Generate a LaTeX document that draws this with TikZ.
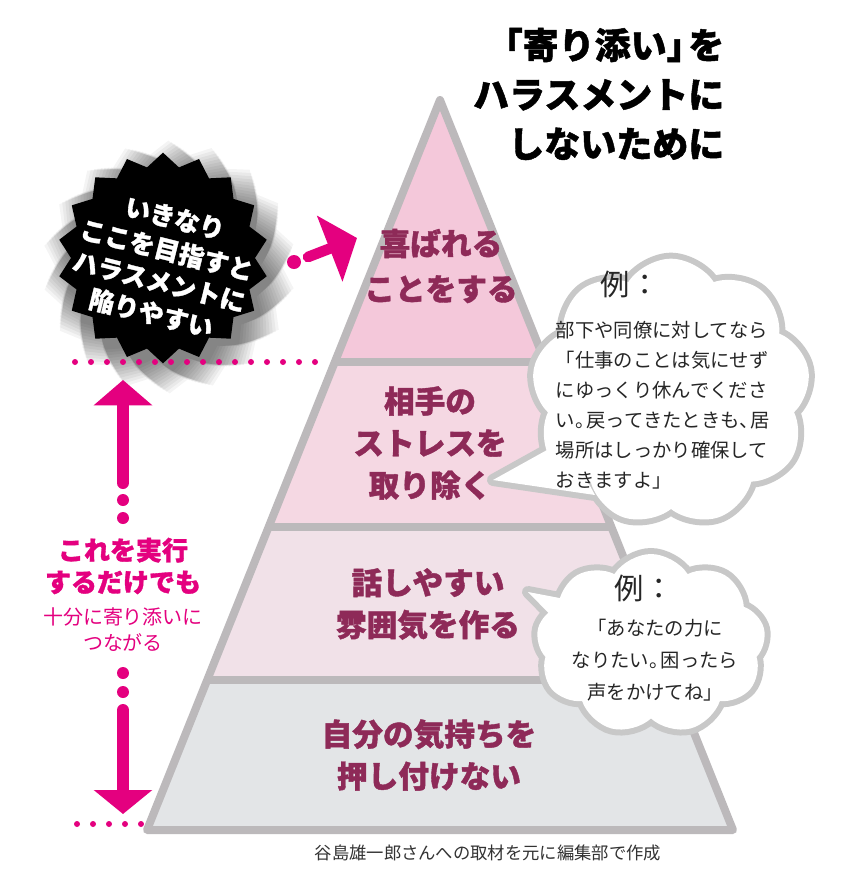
\documentclass[tikz,border=0pt]{standalone}
\usepackage{fontspec}
\newfontfamily\jp{Noto Sans CJK JP}
\newfontfamily\jpx{Noto Sans CJK JP}[BoldFeatures={FakeBold=1.3}]
\usetikzlibrary{shapes.geometric,shapes.symbols,arrows.meta}
\definecolor{mag}{HTML}{E4007F}
\definecolor{tiertext}{HTML}{8E2A58}
\definecolor{pyrline}{HTML}{BCB9BB}
\definecolor{tierA}{HTML}{F4C8DA}
\definecolor{tierB}{HTML}{F5D8E3}
\definecolor{tierC}{HTML}{F1E1E8}
\definecolor{tierD}{HTML}{E3E5E7}
\definecolor{bubgray}{HTML}{C8C8C8}
\newcommand{\pk}{\hspace{-0.4em}}
\tikzset{
  tiertxt/.style={text=tiertext, align=center, font=\jpx\bfseries\fontsize{23}{31.5}\selectfont},
  bubble/.style={cloud, cloud puffs=9, cloud puff arc=115, cloud ignores aspect, inner sep=0pt},
  bubtxt/.style={text=black!85, font=\jp\fontsize{14.5}{22.5}\selectfont},
  reitxt/.style={text=black!85, font=\jp\fontsize{22}{26}\selectfont},
  magdot/.style={circle, fill=mag, inner sep=0pt, minimum size=9pt},
  dotline/.style={mag, line width=4.5pt, line cap=round, dash pattern=on 0pt off 12pt},
  burst/.style={star, star points=18, star point height=10pt, inner sep=0pt}
}
\begin{document}
\begin{tikzpicture}[x=0.75pt,y=-0.75pt]
\useasboundingbox (0,0) rectangle (846,869);
\fill[white] (0,0) rectangle (846,869);

% ---------- pyramid ----------
\coordinate (apex) at (440,100);
\coordinate (bl) at (147,830);
\coordinate (br) at (733,830);
\coordinate (l1) at (334.8,362); \coordinate (r1) at (545.2,362);
\coordinate (l2) at (268.6,527); \coordinate (r2) at (611.4,527);
\coordinate (l3) at (207.2,680); \coordinate (r3) at (672.8,680);
\fill[tierA] (apex)--(r1)--(l1)--cycle;
\fill[tierB] (l1)--(r1)--(r2)--(l2)--cycle;
\fill[tierC] (l2)--(r2)--(r3)--(l3)--cycle;
\fill[tierD] (l3)--(r3)--(br)--(bl)--cycle;
\draw[pyrline, line width=6pt] (l1)--(r1) (l2)--(r2) (l3)--(r3);
\draw[pyrline, line width=6pt, line join=round] (apex)--(br)--(bl)--cycle;

\node[tiertxt, font=\jpx\bfseries\fontsize{23}{34}\selectfont] (t1) at (441,266) {喜ばれる\\ことをする};
\node[tiertxt] (t2) at (430,443) {相手の\\ストレスを\\取り除く};
\node[tiertxt] (t3) at (428,604) {話しやすい\\雰囲気を作る};
\node[tiertxt] (t4) at (429,755) {自分の気持ちを\\押し付けない};

% ---------- title ----------
\node[anchor=east, align=right, font=\jpx\bfseries\fontsize{27}{37}\selectfont] (title) at (729,94)
  {「寄り添い」\pk を\\ハラスメントに\\しないために};

% ---------- starburst ----------
\foreach \i in {1,...,14}{
  \node[burst, fill=black, opacity=0.045, rotate=1.45*\i, minimum size={(156+2.4*\i)*1pt}] (sh\i) at (169,267) {};
}
\node[burst, fill=black, minimum size=158pt] (burstbg) at (163,258) {};
\node[rotate=-14, text=white, align=center, font=\jpx\bfseries\fontsize{19}{24.5}\selectfont] (bursttext) at (163,266)
  {いきなり\\ここを目指すと\\ハラスメントに\\陥りやすい};

% ---------- small arrow ----------
\node[magdot, minimum size=10.5pt] (adot) at (294,262) {};
\coordinate (ashaft) at (308,257);
\coordinate (atip) at (357,238);
\draw[mag, line width=8pt, line cap=round, -{Triangle[length=22pt,width=52pt]}] (ashaft)--(atip);

% ---------- dotted guide lines ----------
\coordinate (dl1) at (75,362); \coordinate (dl2) at (320,362);
\draw[dotline] (dl1)--(dl2);
\coordinate (dm1) at (77,824); \coordinate (dm2) at (142,824);
\draw[dotline] (dm1)--(dm2);

% ---------- vertical arrows ----------
\coordinate (upbot) at (123,483); \coordinate (uptip) at (123,380);
\draw[mag, line width=9pt, line cap=round, -{Triangle[length=19pt,width=43pt]}] (upbot)--(uptip);
\node[magdot] (ud1) at (123,500) {};
\node[magdot] (ud2) at (123,518) {};
\node[text=mag, align=center, font=\jpx\bfseries\fontsize{19.5}{24}\selectfont] (lt1) at (123,566) {これを実行\\するだけでも};
\node[text=mag, align=center, font=\jp\fontsize{15}{19.5}\selectfont] (lt2) at (123,630) {十分に寄り添いに\\つながる};
\node[magdot] (dd1) at (123,673) {};
\node[magdot] (dd2) at (123,692) {};
\coordinate (dntop) at (123,710); \coordinate (dntip) at (123,814);
\draw[mag, line width=9pt, line cap=round, -{Triangle[length=18pt,width=43pt]}] (dntop)--(dntip);

% ---------- bubble 1 ----------
\coordinate (b1tip) at (493,480);
\coordinate (b1a) at (565,440);
\coordinate (b1b) at (595,495);
\node[bubble, draw=bubgray, line width=9pt, minimum width=209pt, minimum height=200pt] (b1o) at (671,392) {};
\draw[bubgray, line width=9pt, line join=round] (b1a)--(b1tip)--(b1b)--cycle;
\node[bubble, fill=white, minimum width=209pt, minimum height=200pt] (b1f) at (671,392) {};
\fill[white] (b1a)--(b1tip)--(b1b)--cycle;
\node[reitxt] (b1rei) at (630,284) {例：};
\node[bubtxt, anchor=north west, align=left] (b1txt) at (551,317)
  {部下や同僚に対してなら\\「仕事のことは気にせず\\にゆっくり休んでくださ\\い。\pk 戻ってきたときも、\pk 居\\場所はしっかり確保して\\おきますよ」};

% ---------- bubble 2 ----------
\coordinate (b2tip) at (528,592);
\coordinate (b2a) at (570,600);
\coordinate (b2b) at (575,640);
\node[bubble, draw=bubgray, line width=9pt, minimum width=172pt, minimum height=135pt] (b2o) at (651,644) {};
\draw[bubgray, line width=9pt, line join=round] (b2a)--(b2tip)--(b2b)--cycle;
\node[bubble, fill=white, minimum width=172pt, minimum height=135pt] (b2f) at (651,644) {};
\fill[white] (b2a)--(b2tip)--(b2b)--cycle;
\node[reitxt] (b2rei) at (644,588) {例：};
\node[bubtxt, align=center, font=\jp\fontsize{14.5}{24}\selectfont] (b2txt) at (655,660)
  {「あなたの力に\\なりたい。\pk 困ったら\\声をかけてね」};

% ---------- caption ----------
\node[text=black!80, font=\jp\fontsize{13}{15}\selectfont] (cap) at (488,853) {谷島雄一郎さんへの取材を元に編集部で作成};
\end{tikzpicture}
\end{document}
